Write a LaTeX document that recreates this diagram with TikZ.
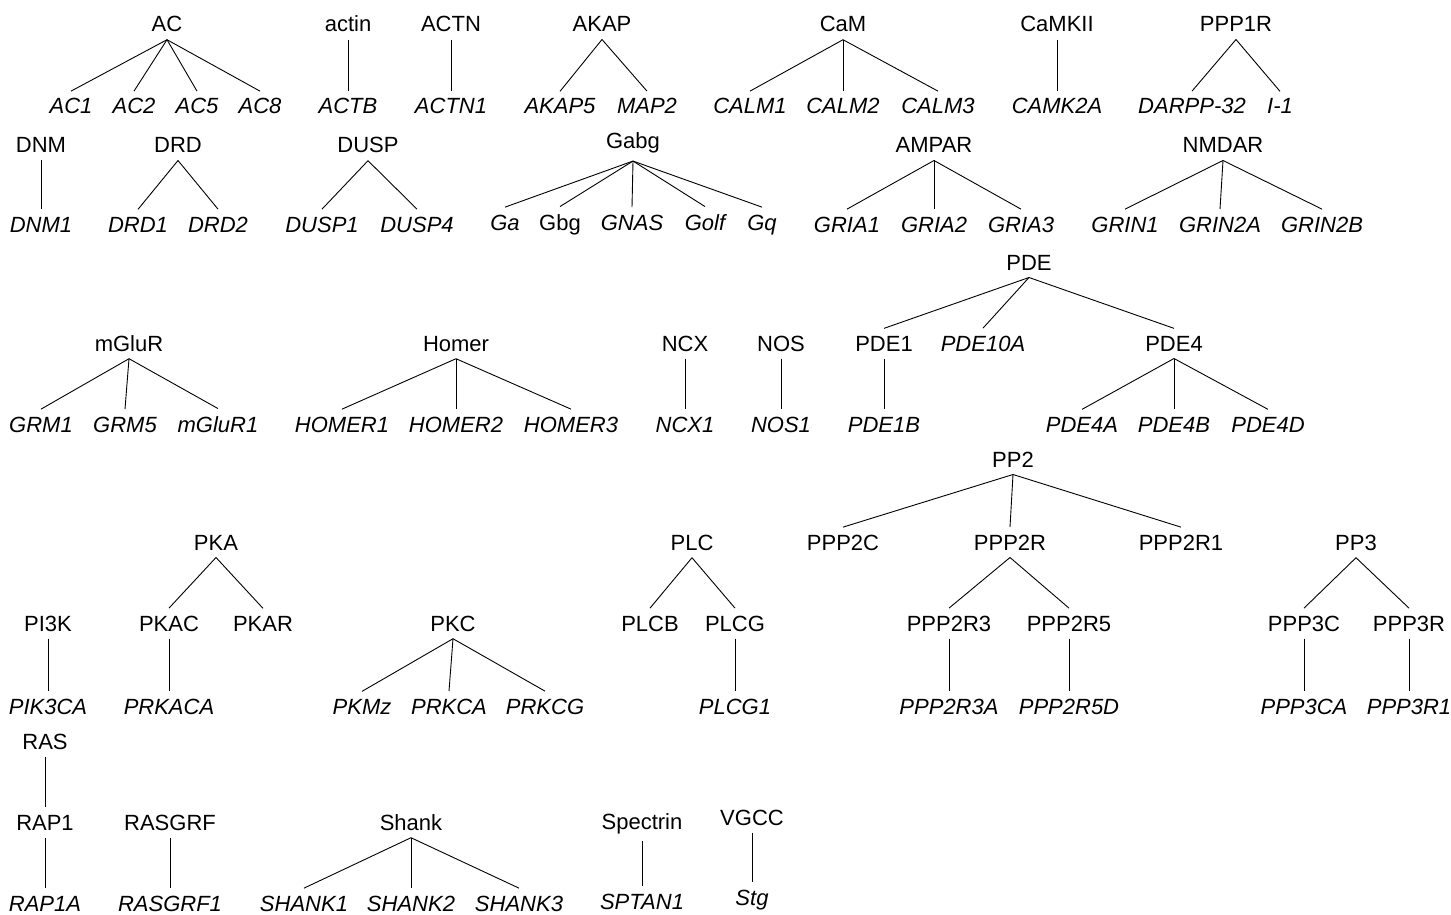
\documentclass[tikz,border=0pt]{standalone}
\usepackage{fontspec}
\setmainfont{Liberation Sans}
\begin{document}
\begin{tikzpicture}[x=1pt, y=-1pt,
  lbl/.style={anchor=base, inner xsep=0pt, inner ysep=7.5pt, outer sep=0pt,
              font=\fontsize{22}{26}\selectfont},
  gene/.style={lbl, font=\fontsize{22}{26}\selectfont\itshape},
  edge/.style={line width=0.9pt, black}]
\fill[white] (0,0) rectangle (1451,915);
\useasboundingbox (0,0) rectangle (1451,915);

% ---- row 1 ----
\node[lbl]  (AC)    at (167,32)  {AC};
\node[gene] (AC1)   at (71,114)  {AC1};
\node[gene] (AC2)   at (134,114) {AC2};
\node[gene] (AC5)   at (197,114) {AC5};
\node[gene] (AC8)   at (260,114) {AC8};
\node[lbl]  (actin) at (348,32)  {actin};
\node[gene] (ACTB)  at (348,114) {ACTB};
\node[lbl]  (ACTN)  at (451,32)  {ACTN};
\node[gene] (ACTN1) at (451,114) {ACTN1};
\node[lbl]  (AKAP)  at (602,32)  {AKAP};
\node[gene] (AKAP5) at (560,114) {AKAP5};
\node[gene] (MAP2)  at (647,114) {MAP2};
\node[lbl]  (CaM)   at (843,32)  {CaM};
\node[gene] (CALM1) at (750,114) {CALM1};
\node[gene] (CALM2) at (843,114) {CALM2};
\node[gene] (CALM3) at (938,114) {CALM3};
\node[lbl]  (CaMKII) at (1057,32) {CaMKII};
\node[gene] (CAMK2A) at (1057,114) {CAMK2A};
\node[lbl]  (PPP1R) at (1236,32) {PPP1R};
\node[gene] (DARPP) at (1192,114) {DARPP-32};
\node[gene] (I1)    at (1280,114) {I-1};

% ---- row 2 ----
\node[lbl]  (DNM)   at (41,153)  {DNM};
\node[gene] (DNM1)  at (41,232)  {DNM1};
\node[lbl]  (DRD)   at (178,153) {DRD};
\node[gene] (DRD1)  at (138,232) {DRD1};
\node[gene] (DRD2)  at (218,232) {DRD2};
\node[lbl]  (DUSP)  at (368,153) {DUSP};
\node[gene] (DUSP1) at (322,232) {DUSP1};
\node[gene] (DUSP4) at (417,232) {DUSP4};
\node[lbl]  (Gabg)  at (633,149) {Gabg};
\node[gene] (Ga)    at (505,230) {Ga};
\node[lbl]  (Gbg)   at (560,230) {Gbg};
\node[gene] (GNAS)  at (632,230) {GNAS};
\node[gene] (Golf)  at (705,230) {Golf};
\node[gene] (Gq)    at (762,230) {Gq};
\node[lbl]  (AMPAR) at (934,153) {AMPAR};
\node[gene] (GRIA1) at (847,232) {GRIA1};
\node[gene] (GRIA2) at (934,232) {GRIA2};
\node[gene] (GRIA3) at (1021,232) {GRIA3};
\node[lbl]  (NMDAR) at (1223,153) {NMDAR};
\node[gene] (GRIN1) at (1125,232) {GRIN1};
\node[gene] (GRIN2A) at (1220,232) {GRIN2A};
\node[gene] (GRIN2B) at (1322,232) {GRIN2B};

% ---- row 3 ----
\node[lbl]  (mGluR) at (129,351) {mGluR};
\node[gene] (GRM1)  at (41,432)  {GRM1};
\node[gene] (GRM5)  at (125,432) {GRM5};
\node[gene] (mGluR1) at (218,432) {mGluR1};
\node[lbl]  (Homer) at (456,351) {Homer};
\node[gene] (HOMER1) at (342,432) {HOMER1};
\node[gene] (HOMER2) at (456,432) {HOMER2};
\node[gene] (HOMER3) at (571,432) {HOMER3};
\node[lbl]  (NCX)   at (685,351) {NCX};
\node[gene] (NCX1)  at (685,432) {NCX1};
\node[lbl]  (NOS)   at (781,351) {NOS};
\node[gene] (NOS1)  at (781,432) {NOS1};
\node[lbl]  (PDE)   at (1029,270) {PDE};
\node[lbl]  (PDE1)  at (884,351) {PDE1};
\node[gene] (PDE1B) at (884,432) {PDE1B};
\node[gene] (PDE10A) at (983,351) {PDE10A};
\node[lbl]  (PDE4)  at (1174,351) {PDE4};
\node[gene] (PDE4A) at (1082,432) {PDE4A};
\node[gene] (PDE4B) at (1174,432) {PDE4B};
\node[gene] (PDE4D) at (1268,432) {PDE4D};

% ---- row 4 ----
\node[lbl]  (PI3K)  at (48,631)  {PI3K};
\node[gene] (PIK3CA) at (48,714) {PIK3CA};
\node[lbl]  (PKA)   at (216,550) {PKA};
\node[lbl]  (PKAC)  at (169,631) {PKAC};
\node[lbl]  (PKAR)  at (263,631) {PKAR};
\node[gene] (PRKACA) at (169,714) {PRKACA};
\node[lbl]  (PKC)   at (453,631) {PKC};
\node[gene] (PKMz)  at (362,714) {PKMz};
\node[gene] (PRKCA) at (449,714) {PRKCA};
\node[gene] (PRKCG) at (545,714) {PRKCG};
\node[lbl]  (PLC)   at (692,550) {PLC};
\node[lbl]  (PLCB)  at (650,631) {PLCB};
\node[lbl]  (PLCG)  at (735,631) {PLCG};
\node[gene] (PLCG1) at (735,714) {PLCG1};
\node[lbl]  (PP2)   at (1013,467) {PP2};
\node[lbl]  (PPP2C) at (843,550) {PPP2C};
\node[lbl]  (PPP2R) at (1010,550) {PPP2R};
\node[lbl]  (PPP2R1) at (1181,550) {PPP2R1};
\node[lbl]  (PPP2R3) at (949,631) {PPP2R3};
\node[lbl]  (PPP2R5) at (1069,631) {PPP2R5};
\node[gene] (PPP2R3A) at (949,714) {PPP2R3A};
\node[gene] (PPP2R5D) at (1069,714) {PPP2R5D};
\node[lbl]  (PP3)   at (1356,550) {PP3};
\node[lbl]  (PPP3C) at (1304,631) {PPP3C};
\node[lbl]  (PPP3R) at (1409,631) {PPP3R};
\node[gene] (PPP3CA) at (1304,714) {PPP3CA};
\node[gene] (PPP3R1) at (1409,714) {PPP3R1};

% ---- row 5 ----
\node[lbl]  (RAS)   at (45,749)  {RAS};
\node[lbl]  (RAP1)  at (45,830)  {RAP1};
\node[gene] (RAP1A) at (45,911)  {RAP1A};
\node[lbl]  (RASGRF) at (170,830) {RASGRF};
\node[gene] (RASGRF1) at (170,911) {RASGRF1};
\node[lbl]  (Shank) at (411,830) {Shank};
\node[gene] (SHANK1) at (304,911) {SHANK1};
\node[gene] (SHANK2) at (411,911) {SHANK2};
\node[gene] (SHANK3) at (519,911) {SHANK3};
\node[lbl]  (Spectrin) at (642,829) {Spectrin};
\node[gene] (SPTAN1) at (642,909) {SPTAN1};
\node[lbl]  (VGCC)  at (752,825) {VGCC};
\node[gene] (Stg)   at (752,905) {Stg};

% ---- tree edges ----
\foreach \p/\c in {
  AC/AC1, AC/AC2, AC/AC5, AC/AC8, actin/ACTB, ACTN/ACTN1,
  AKAP/AKAP5, AKAP/MAP2, CaM/CALM1, CaM/CALM2, CaM/CALM3,
  CaMKII/CAMK2A, PPP1R/DARPP, PPP1R/I1,
  DNM/DNM1, DRD/DRD1, DRD/DRD2, DUSP/DUSP1, DUSP/DUSP4,
  Gabg/Ga, Gabg/Gbg, Gabg/GNAS, Gabg/Golf, Gabg/Gq,
  AMPAR/GRIA1, AMPAR/GRIA2, AMPAR/GRIA3,
  NMDAR/GRIN1, NMDAR/GRIN2A, NMDAR/GRIN2B,
  mGluR/GRM1, mGluR/GRM5, mGluR/mGluR1,
  Homer/HOMER1, Homer/HOMER2, Homer/HOMER3,
  NCX/NCX1, NOS/NOS1,
  PDE/PDE1, PDE/PDE10A, PDE/PDE4, PDE1/PDE1B,
  PDE4/PDE4A, PDE4/PDE4B, PDE4/PDE4D,
  PI3K/PIK3CA, PKA/PKAC, PKA/PKAR, PKAC/PRKACA,
  PKC/PKMz, PKC/PRKCA, PKC/PRKCG,
  PLC/PLCB, PLC/PLCG, PLCG/PLCG1,
  PP2/PPP2C, PP2/PPP2R, PP2/PPP2R1,
  PPP2R/PPP2R3, PPP2R/PPP2R5, PPP2R3/PPP2R3A, PPP2R5/PPP2R5D,
  PP3/PPP3C, PP3/PPP3R, PPP3C/PPP3CA, PPP3R/PPP3R1,
  RAS/RAP1, RAP1/RAP1A, RASGRF/RASGRF1,
  Shank/SHANK1, Shank/SHANK2, Shank/SHANK3,
  Spectrin/SPTAN1, VGCC/Stg}
  \draw[edge] (\p.south) -- (\c.north);
\end{tikzpicture}
\end{document}
